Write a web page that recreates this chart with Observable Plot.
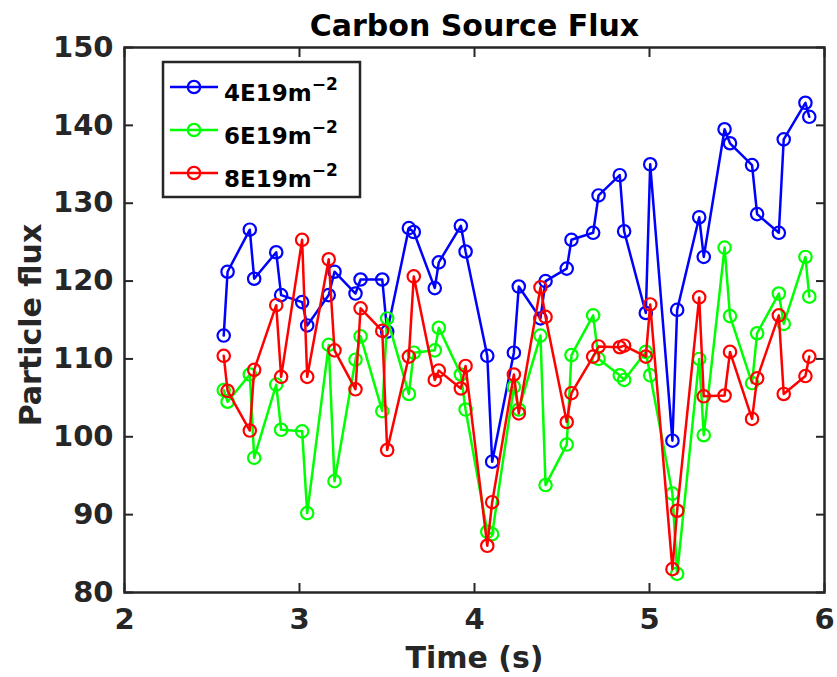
<!DOCTYPE html>
<html><head><meta charset="utf-8">
<script src="https://cdn.jsdelivr.net/npm/d3@7"></script>
<script src="https://cdn.jsdelivr.net/npm/@observablehq/plot@0.6"></script>
<style>
html,body{margin:0;padding:0;background:#fff}
#chart{position:relative;width:837px;height:677px}
</style>
</head><body><div id="chart"></div>
<script>
const times = [2.567,2.589,2.716,2.741,2.867,2.895,3.015,3.044,3.167,3.2,3.32,3.349,3.473,3.501,3.625,3.653,3.773,3.796,3.922,3.949,4.073,4.101,4.225,4.253,4.377,4.406,4.527,4.554,4.678,4.709,4.83,4.855,4.979,5.004,5.131,5.158,5.284,5.31,5.429,5.46,5.586,5.615,5.739,5.767,5.891,5.913];
const flux4 = [113.0,121.2,126.6,120.3,123.7,118.2,117.3,114.3,118.2,121.2,118.4,120.2,120.2,113.5,126.8,126.3,119.1,122.4,127.1,123.8,110.4,96.8,110.8,119.3,115.2,120.0,121.6,125.3,126.2,131.0,133.6,126.4,115.9,135.0,99.5,116.3,128.2,123.1,139.5,137.7,134.9,128.6,126.2,138.2,142.9,141.1];
const flux6 = [106.0,104.5,108.0,97.3,106.7,100.9,100.7,90.2,111.8,94.3,109.9,112.9,103.3,115.2,105.5,110.8,111.1,114.0,108.0,103.5,87.8,87.5,106.4,103.5,113.0,93.8,99.0,110.5,115.6,110.0,107.9,107.3,110.9,107.9,92.7,82.4,110.0,100.2,124.3,115.5,106.9,113.3,118.4,114.5,123.1,118.0];
const flux8 = [110.4,105.9,100.8,108.6,116.9,107.7,125.3,107.7,122.8,111.1,106.1,116.5,113.6,98.3,110.3,120.6,107.3,108.5,106.2,109.1,86.0,91.6,108.0,103.0,119.2,115.4,101.9,105.6,110.3,111.6,111.5,111.7,110.3,117.0,83.0,90.5,117.9,105.2,105.3,110.9,102.3,107.5,115.6,105.5,107.8,110.3];
const seriesBase = ["4E19m", "6E19m", "8E19m"];
const seriesSup = "\u22122";
const seriesColors = ["#0000ff", "#00ff00", "#ff0000"];
const xTicks = [2, 3, 4, 5, 6];
const yTicks = [80, 90, 100, 110, 120, 130, 140, 150];
const titleText = "Carbon Source Flux";
const xLabel = "Time (s)";
const yLabel = "Particle flux";

const allSeries = [flux4, flux6, flux8];
const rows = [];
allSeries.forEach((vals, si) => {
  vals.forEach((v, i) => rows.push({time: times[i], flux: v, series: seriesBase[si]}));
});

const font = "DejaVu Sans";
const ink = "#262626";

const seriesMarks = seriesBase.flatMap((name) => {
  const d = rows.filter(r => r.series === name);
  return [
    Plot.line(d, {x: "time", y: "flux", stroke: "series", strokeWidth: 2.5, strokeLinejoin: "round"}),
    Plot.dot(d, {x: "time", y: "flux", stroke: "series", r: 6.2, strokeWidth: 2.2, fill: "none"})
  ];
});

const chart = Plot.plot({
  width: 837,
  height: 677,
  marginLeft: 124,
  marginRight: 13,
  marginTop: 47,
  marginBottom: 85,
  style: {fontFamily: font, color: ink, background: "#fff", overflow: "visible"},
  x: {domain: [2, 6], label: null},
  y: {domain: [80, 150], label: null},
  color: {domain: seriesBase, range: seriesColors},
  marks: [
    ...seriesMarks,
    Plot.frame({stroke: ink, strokeWidth: 2.5}),
    Plot.axisX(xTicks, {anchor: "bottom", tickSize: -9, strokeWidth: 2, tickFormat: () => ""}),
    Plot.axisX(xTicks, {anchor: "top", tickSize: -9, strokeWidth: 2, tickFormat: () => ""}),
    Plot.axisY(yTicks, {anchor: "left", tickSize: -9, strokeWidth: 2, tickFormat: () => ""}),
    Plot.axisY(yTicks, {anchor: "right", tickSize: -9, strokeWidth: 2, tickFormat: () => ""}),
    Plot.axisX(xTicks, {anchor: "bottom", tickSize: 0, tickPadding: 16, fontSize: 29, fontWeight: "bold", fill: ink, tickFormat: d => String(d)}),
    Plot.axisY(yTicks, {anchor: "left", tickSize: 0, tickPadding: 11, fontSize: 29, fontWeight: "bold", fill: ink, tickFormat: d => String(d)}),
    Plot.text([titleText], {frameAnchor: "top", dy: -21.5, lineAnchor: "middle", textAnchor: "middle", fontSize: 30, fontWeight: "bold", fill: "#000"}),
    Plot.text([xLabel], {frameAnchor: "bottom", dy: 66, lineAnchor: "middle", textAnchor: "middle", fontSize: 30, fontWeight: "bold", fill: ink}),
    Plot.text([yLabel], {frameAnchor: "left", dx: -93, dy: 5, rotate: -90, lineAnchor: "middle", textAnchor: "middle", fontSize: 30, fontWeight: "bold", fill: ink})
  ]
});

document.getElementById("chart").appendChild(chart);

// Legend (inside the axes, upper-left), drawn with d3 into the Plot SVG
const svg = d3.select(chart);
const lg = svg.append("g").attr("transform", "translate(163,62)");
lg.append("rect").attr("width", 197).attr("height", 135)
  .attr("fill", "#fff").attr("stroke", ink).attr("stroke-width", 2.5);
seriesBase.forEach((name, i) => {
  const cy = 25 + i * 43;
  const g = lg.append("g").attr("transform", `translate(0,${cy})`);
  g.append("line").attr("x1", 7).attr("x2", 55).attr("y1", 0).attr("y2", 0)
    .attr("stroke", seriesColors[i]).attr("stroke-width", 2.5);
  g.append("circle").attr("cx", 31).attr("cy", 0).attr("r", 6.2)
    .attr("fill", "none").attr("stroke", seriesColors[i]).attr("stroke-width", 2.2);
  const t = g.append("text").attr("x", 61).attr("y", 14)
    .attr("text-anchor", "start")
    .attr("font-family", font).attr("font-weight", "bold").attr("font-size", 23)
    .attr("fill", "#000");
  t.append("tspan").text(name);
  t.append("tspan").attr("dy", -11).attr("font-size", 17).text(seriesSup);
});
</script>
</body></html>
